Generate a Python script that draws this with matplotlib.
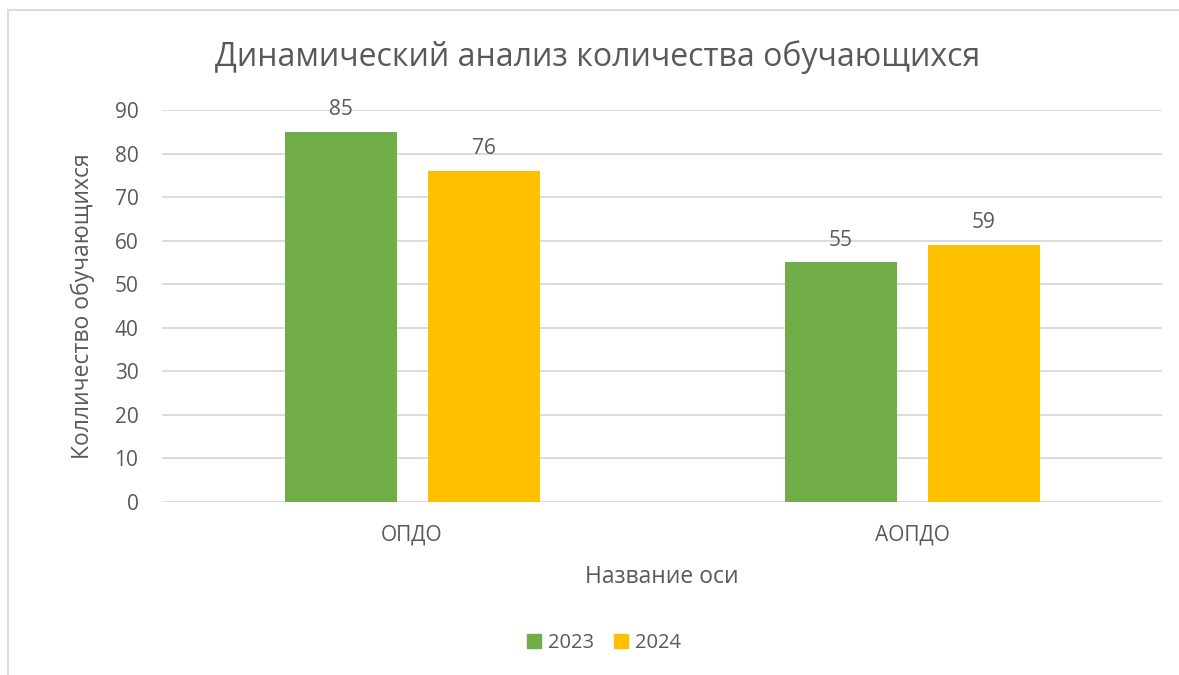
import matplotlib
matplotlib.use("Agg")
import matplotlib.pyplot as plt
import numpy as np
from matplotlib.lines import Line2D

categories = ["ОПДО", "АОПДО"]
series_names = ["2023", "2024"]
values_2023 = [85, 55]
values_2024 = [76, 59]
colors = ["#70AD47", "#FFC000"]
title = "Динамический анализ количества обучающихся"
xlabel = "Название оси"
ylabel = "Колличество обучающихся"

plt.rcParams['font.family'] = ['Open Sans', 'DejaVu Sans']
txt = "#595959"

fig = plt.figure(figsize=(11.79, 6.75), dpi=100)
ax = fig.add_axes([162/1179, 1-502/675, 1000/1179, 392/675])

x = np.arange(len(categories))
w = 0.224
off = 0.143
b1 = ax.bar(x - off, values_2023, w, color=colors[0], label=series_names[0], zorder=3)
b2 = ax.bar(x + off, values_2024, w, color=colors[1], label=series_names[1], zorder=3)
for bars in (b1, b2):
    for r in bars:
        ax.text(r.get_x() + r.get_width()/2, r.get_height() + 2.7, f"{int(r.get_height())}",
                ha="center", va="bottom", fontsize=15, color=txt)

ax.set_xlim(-0.5, 1.5)
ax.set_ylim(0, 90)
ax.set_yticks(range(0, 91, 10))
ax.yaxis.grid(True, color="#D9D9D9", linewidth=1.3, zorder=0)
ax.set_axisbelow(True)
for s in ax.spines.values():
    s.set_visible(False)
ax.tick_params(axis="both", length=0, labelsize=15, colors=txt)
ax.tick_params(axis="y", pad=17)
ax.tick_params(axis="x", pad=16)
ax.set_xticks(x)
ax.set_xticklabels(categories)
ax.set_xlabel(xlabel, fontsize=16.5, color=txt, labelpad=14)
ax.set_ylabel(ylabel, fontsize=16.5, color=txt, labelpad=14)

fig.text(598/1179, 1-57/675, title, ha="center", va="center", fontsize=23, color=txt)

handles = [plt.Rectangle((0, 0), 1, 1, color=c) for c in colors]
fig.legend(handles, series_names, loc="center", bbox_to_anchor=(604/1179, 1-643/675),
           ncol=2, frameon=False, fontsize=14.5, labelcolor=txt, handlelength=0.7,
           handleheight=0.7, handletextpad=0.35, columnspacing=1.0)

# chart border (left and top visible)
fig.add_artist(Line2D([8/1179, 8/1179], [0, 1-10/675], transform=fig.transFigure, color="#D9D9D9", lw=1.3))
fig.add_artist(Line2D([8/1179, 1], [1-10/675, 1-10/675], transform=fig.transFigure, color="#D9D9D9", lw=1.3))

fig.savefig("out.png", dpi=100)
